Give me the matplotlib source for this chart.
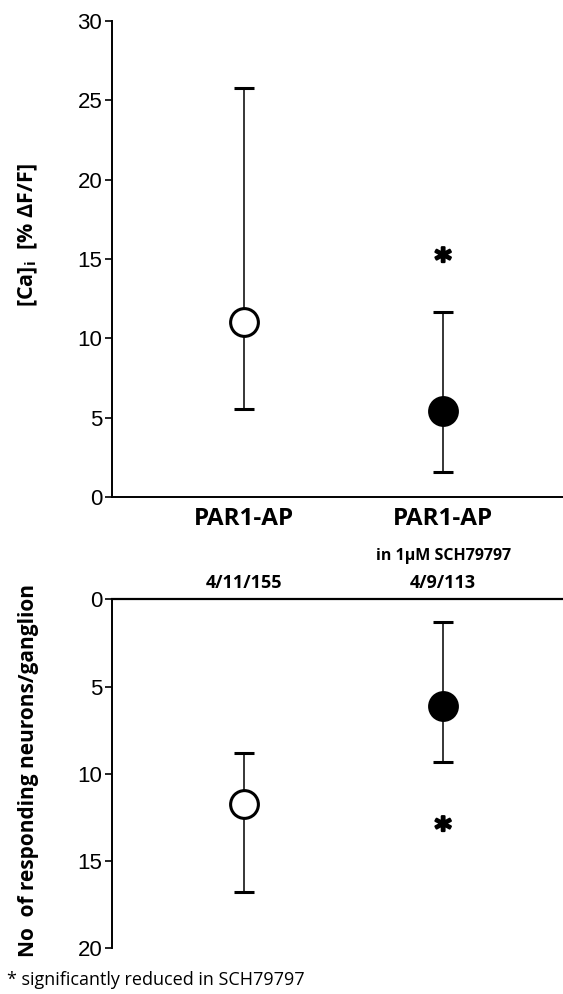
import matplotlib.pyplot as plt
import matplotlib.patheffects as pe

# group positions and values
groups = ["PAR1-AP", "PAR1-AP"]
xpos = [1, 2]

# [Ca]i response, % dF/F
ca_mean = [11.0, 5.4]
ca_upper = [25.8, 11.65]
ca_lower = [5.55, 1.6]

# responding neurons per ganglion
n_mean = [11.75, 6.1]
n_upper = [8.8, 1.3]
n_lower = [16.8, 9.35]

n_labels = ["4/11/155", "4/9/113"]
face = ["white", "black"]

tick_font = "Liberation Sans"
lab_font = "Open Sans"
thick = [pe.withStroke(linewidth=1.6, foreground="black")]

fig = plt.figure(figsize=(5.63, 9.94), dpi=100)

ax1 = fig.add_axes([0.199, 0.5, 0.801, 0.479])
ax2 = fig.add_axes([0.199, 0.046, 0.801, 0.351])

for ax in (ax1, ax2):
    ax.spines["right"].set_visible(False)
    ax.spines["left"].set_linewidth(1.4)
    ax.set_xlim(0.335, 2.603)
    ax.set_xticks([])
    ax.tick_params(axis="y", direction="out", length=5, width=1.2, pad=2)

ax1.spines["top"].set_visible(False)
ax1.spines["bottom"].set_linewidth(1.4)
ax2.spines["bottom"].set_visible(False)
ax2.spines["top"].set_linewidth(1.6)

# top panel
for i in range(2):
    yerr = [[ca_mean[i] - ca_lower[i]], [ca_upper[i] - ca_mean[i]]]
    ax1.errorbar(xpos[i], ca_mean[i], yerr=yerr, fmt="o", ms=20, mfc=face[i],
                 mec="black", mew=2.2, ecolor="black", elinewidth=1.1,
                 capsize=7, capthick=1.1, zorder=3)
ax1.set_ylim(0, 30)
ax1.set_yticks([0, 5, 10, 15, 20, 25, 30])
ax1.set_yticklabels(["0", "5", "10", "15", "20", "25", "30"], family=tick_font, fontsize=16)
ax1.text(2, 15.0, "*", ha="center", va="center_baseline", fontsize=23,
         fontweight="heavy", family="DejaVu Sans", path_effects=thick)

# bottom panel, inverted axis
for i in range(2):
    yerr = [[n_mean[i] - n_upper[i]], [n_lower[i] - n_mean[i]]]
    ax2.errorbar(xpos[i], n_mean[i], yerr=yerr, fmt="o", ms=20, mfc=face[i],
                 mec="black", mew=2.2, ecolor="black", elinewidth=1.1,
                 capsize=7, capthick=1.1, zorder=3)
ax2.set_ylim(20, 0)
ax2.set_yticks([0, 5, 10, 15, 20])
ax2.set_yticklabels(["0", "5", "10", "15", "20"], family=tick_font, fontsize=16)
ax2.text(2, 13.1, "*", ha="center", va="center_baseline", fontsize=23,
         fontweight="heavy", family="DejaVu Sans", path_effects=thick)

# axis titles
fig.text(0.05, 0.763, "[Ca]$_\\mathregular{i}$  [% \u0394F/F]", rotation=90,
         ha="center", va="center", family=lab_font, fontweight="bold", fontsize=15.5)
fig.text(0.05, 0.225, "No  of responding neurons/ganglion", rotation=90,
         ha="center", va="center", family=lab_font, fontweight="bold", fontsize=15)

# group labels between the panels
for i in range(2):
    ax1.annotate(groups[i], xy=(xpos[i], 0), xycoords=("data", "axes fraction"),
                 xytext=(0, -16), textcoords="offset points", ha="center", va="center",
                 fontsize=17.5, fontweight="bold", family=lab_font)
    ax2.annotate(n_labels[i], xy=(xpos[i], 1), xycoords=("data", "axes fraction"),
                 xytext=(0, 11.5), textcoords="offset points", ha="center", va="center",
                 fontsize=13, fontweight="bold", family=lab_font)
ax1.annotate("in 1\u00b5M SCH79797", xy=(2, 0), xycoords=("data", "axes fraction"),
             xytext=(0, -42.5), textcoords="offset points", ha="center", va="center",
             fontsize=11.5, fontweight="bold", family=lab_font)

fig.text(0.012, 0.014, "* significantly reduced in SCH79797", ha="left", va="center",
         fontsize=13, family=lab_font)

fig.savefig("out.png", dpi=100)
